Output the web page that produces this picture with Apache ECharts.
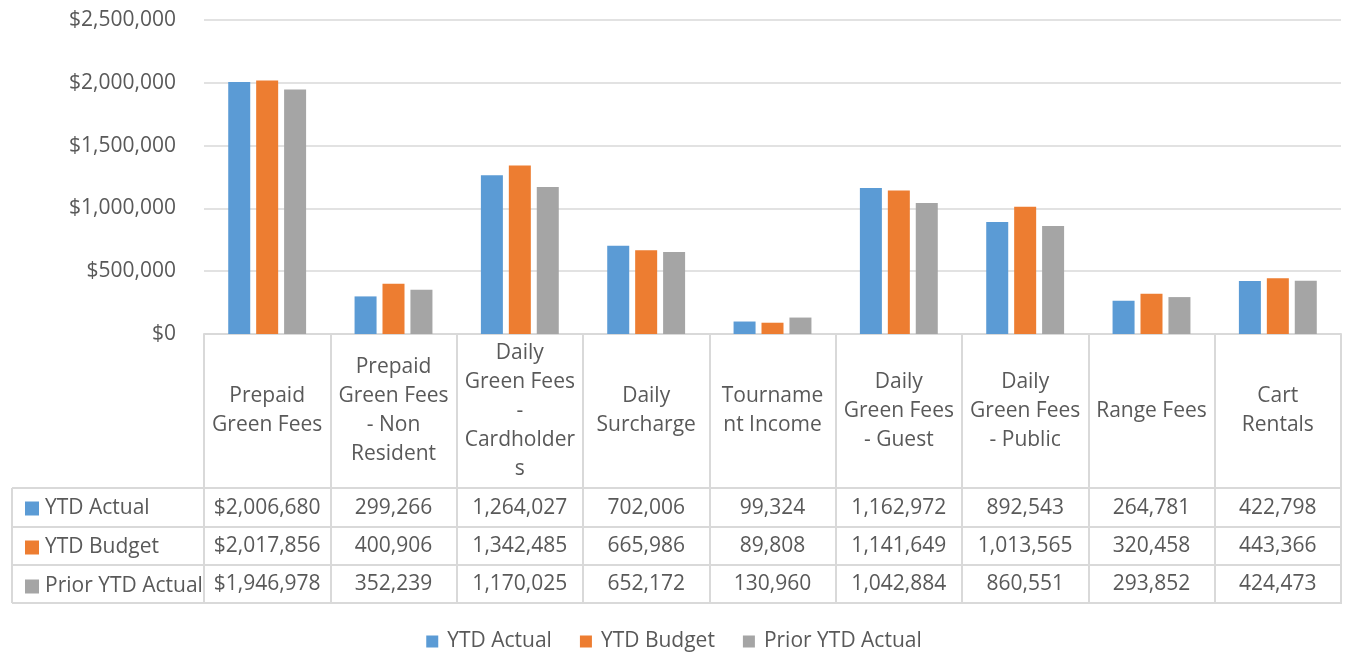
<!DOCTYPE html>
<html>
<head>
<meta charset="utf-8">
<script src="https://cdn.jsdelivr.net/npm/echarts@6/dist/echarts.min.js"></script>
<style>html,body{margin:0;padding:0;background:#fff}#c{width:1348px;height:652px}</style>
</head>
<body>
<div id="c"></div>
<script>
const categories = ['Prepaid Green Fees','Prepaid Green Fees - Non Resident','Daily Green Fees - Cardholders','Daily Surcharge','Tournament Income','Daily Green Fees - Guest','Daily Green Fees - Public','Range Fees','Cart Rentals'];
const categoryLabels = ['Prepaid\nGreen Fees','Prepaid\nGreen Fees\n- Non\nResident','Daily\nGreen Fees\n-\nCardholder\ns','Daily\nSurcharge','Tourname\nnt Income','Daily\nGreen Fees\n- Guest','Daily\nGreen Fees\n- Public','Range Fees','Cart\nRentals'];
const seriesNames = ['YTD Actual','YTD Budget','Prior YTD Actual'];
const ytdActual = [2006680, 299266, 1264027, 702006, 99324, 1162972, 892543, 264781, 422798];
const ytdBudget = [2017856, 400906, 1342485, 665986, 89808, 1141649, 1013565, 320458, 443366];
const priorYtdActual = [1946978, 352239, 1170025, 652172, 130960, 1042884, 860551, 293852, 424473];
const yTicks = {min: 0, max: 2500000, interval: 500000};

const colors = ['#5B9BD5', '#ED7D31', '#A5A5A5'];
const FONT = 'Open Sans';
const FS = 21;
const TXT = '#595959';
const LINE = '#D9D9D9';

const GL = 204, GR = 1341, GT = 20, GB = 334;
const rowLines = [488, 527, 565, 603];
const rows = [ytdActual, ytdBudget, priorYtdActual];

function fmtCell(v, i) {
  const s = v.toLocaleString('en-US');
  return i === 0 ? '$' + s : s;
}

const xAxes = [{
  type: 'category', data: categories, gridIndex: 0, position: 'bottom',
  axisLine: {show: true, lineStyle: {color: LINE, width: 2}},
  axisTick: {show: true, length: 270, interval: 0, lineStyle: {color: LINE, width: 2}},
  axisLabel: {interval: 0, margin: (rowLines[0] + GB) / 2 - GB, verticalAlign: 'middle',
    fontFamily: FONT, fontSize: FS, color: TXT, lineHeight: 29,
    formatter: (v, i) => categoryLabels[i]}
}];
for (let r = 0; r < 3; r++) {
  const center = (rowLines[r] + rowLines[r + 1]) / 2 + 0.5;
  xAxes.push({
    type: 'category', data: categories, gridIndex: 0, position: 'bottom',
    axisLine: {show: false}, axisTick: {show: false}, splitLine: {show: false},
    axisLabel: {interval: 0, margin: center - GB, verticalAlign: 'middle',
      fontFamily: FONT, fontSize: FS, color: TXT,
      formatter: (v, i) => fmtCell(rows[r][i], i)}
  });
}

const graphics = [];
rowLines.forEach(y => graphics.push({type: 'line', shape: {x1: 12, y1: y, x2: GR, y2: y}, style: {stroke: LINE, lineWidth: 2}, silent: true}));
graphics.push({type: 'line', shape: {x1: 12, y1: rowLines[0], x2: 12, y2: rowLines[3]}, style: {stroke: LINE, lineWidth: 2}, silent: true});

const chart = echarts.init(document.getElementById('c'));
chart.setOption({
  animation: false,
  textStyle: {fontFamily: FONT},
  color: colors,
  grid: {left: GL, right: 1348 - GR, top: GT, bottom: 652 - GB, containLabel: false},
  xAxis: xAxes,
  yAxis: {
    type: 'value', min: yTicks.min, max: yTicks.max, interval: yTicks.interval,
    axisLine: {show: false}, axisTick: {show: false},
    splitLine: {lineStyle: {color: LINE, width: 1.5}},
    axisLabel: {margin: 28, fontFamily: FONT, fontSize: FS, color: TXT,
      formatter: v => '$' + v.toLocaleString('en-US')}
  },
  legend: [{
    data: seriesNames, top: 626, left: 'center', icon: 'rect', itemWidth: 12, itemHeight: 12, itemGap: 28,
    selectedMode: false, textStyle: {fontFamily: FONT, fontSize: FS, color: TXT, padding: [0, 0, 0, 4]}
  }, {
    data: seriesNames, orient: 'vertical', left: 20, top: 493, icon: 'rect', itemWidth: 14, itemHeight: 14, itemGap: 18,
    selectedMode: false, textStyle: {fontFamily: FONT, fontSize: FS, color: TXT, padding: [0, 0, 0, 1]}
  }],
  graphic: graphics,
  series: [
    {name: seriesNames[0], type: 'bar', data: ytdActual, barWidth: 22, barGap: '27%'},
    {name: seriesNames[1], type: 'bar', data: ytdBudget, barWidth: 22, barGap: '27%'},
    {name: seriesNames[2], type: 'bar', data: priorYtdActual, barWidth: 22, barGap: '27%'}
  ]
});
</script>
</body>
</html>
